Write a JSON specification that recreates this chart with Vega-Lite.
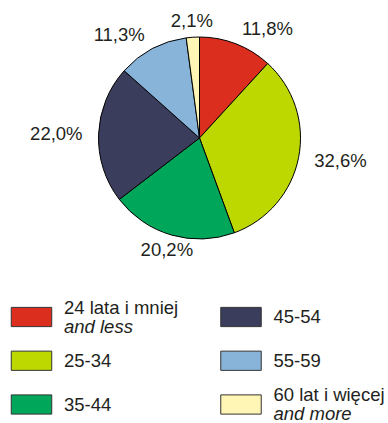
{
  "$schema": "https://vega.github.io/schema/vega-lite/v6.json",
  "padding": 0,
  "background": "white",
  "config": {
    "view": {"stroke": null},
    "concat": {"spacing": 0},
    "text": {"font": "Liberation Sans", "fontSize": 18.5, "fill": "#231f20"},
    "locale": {
      "number": {"decimal": ",", "thousands": " ", "grouping": [3], "currency": ["", " zł"]}
    }
  },
  "datasets": {
    "ages": [
      {"order": 0, "age": "24 lata i mniej", "en": "and less", "share": 0.118},
      {"order": 1, "age": "25-34", "en": "", "share": 0.326},
      {"order": 2, "age": "35-44", "en": "", "share": 0.202},
      {"order": 3, "age": "45-54", "en": "", "share": 0.220},
      {"order": 4, "age": "55-59", "en": "", "share": 0.113},
      {"order": 5, "age": "60 lat i więcej", "en": "and more", "share": 0.021}
    ]
  },
  "vconcat": [
    {
      "width": 399,
      "height": 276,
      "data": {"name": "ages"},
      "encoding": {
        "theta": {"field": "share", "type": "quantitative", "stack": true},
        "order": {"field": "order", "type": "quantitative"}
      },
      "layer": [
        {
          "mark": {"type": "arc", "outerRadius": 101, "stroke": "#000000", "strokeWidth": 1},
          "encoding": {
            "color": {
              "field": "age",
              "type": "nominal",
              "scale": {
                "domain": ["24 lata i mniej", "25-34", "35-44", "45-54", "55-59", "60 lat i więcej"],
                "range": ["#dc2e1e", "#bdd700", "#00a65a", "#3a3e5c", "#87b4d8", "#fff5b4"]
              },
              "legend": null
            }
          }
        },
        {
          "mark": {
            "type": "text",
            "radius": 117,
            "baseline": "middle",
            "align": {"expr": "sin(PI * (datum.share_start + datum.share_end)) > 0.3 ? 'left' : (sin(PI * (datum.share_start + datum.share_end)) < -0.3 ? 'right' : 'center')"}
          },
          "encoding": {
            "text": {"field": "share", "type": "quantitative", "format": ".1%"}
          }
        }
      ]
    },
    {
      "width": 388,
      "height": 147,
      "data": {"name": "ages"},
      "transform": [
        {"calculate": "floor(datum.order / 3)", "as": "col"},
        {"calculate": "datum.order % 3", "as": "row"}
      ],
      "encoding": {
        "x": {"field": "col", "type": "quantitative", "scale": {"domain": [0, 1], "range": [31.5, 241]}, "axis": null},
        "y": {"field": "row", "type": "quantitative", "scale": {"domain": [0, 2], "range": [41, 128.5]}, "axis": null}
      },
      "layer": [
        {
          "mark": {
            "type": "point",
            "shape": "M-1,-0.475H1V0.475H-1Z",
            "size": 1640,
            "filled": true,
            "opacity": 1,
            "stroke": "#333333",
            "strokeWidth": 1
          },
          "encoding": {
            "color": {
              "field": "age",
              "type": "nominal",
              "scale": {
                "domain": ["24 lata i mniej", "25-34", "35-44", "45-54", "55-59", "60 lat i więcej"],
                "range": ["#dc2e1e", "#bdd700", "#00a65a", "#3a3e5c", "#87b4d8", "#fff5b4"]
              },
              "legend": null
            }
          }
        },
        {
          "mark": {
            "type": "text",
            "align": "left",
            "baseline": "middle",
            "dx": 32.5,
            "dy": {"expr": "datum.en ? -9.5 : 0"}
          },
          "encoding": {"text": {"field": "age", "type": "nominal"}}
        },
        {
          "transform": [{"filter": "datum.en"}],
          "mark": {
            "type": "text",
            "align": "left",
            "baseline": "middle",
            "fontStyle": "italic",
            "dx": 32.5,
            "dy": 9.5
          },
          "encoding": {"text": {"field": "en", "type": "nominal"}}
        }
      ]
    }
  ]
}
